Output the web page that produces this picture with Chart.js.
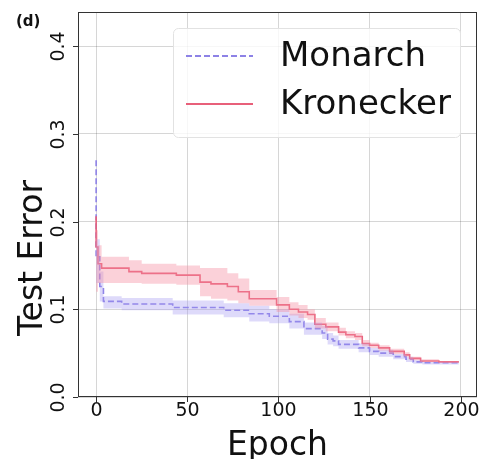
<!DOCTYPE html>
<html>
<head>
<meta charset="utf-8">
<script src="https://cdn.jsdelivr.net/npm/chart.js@4.4.0/dist/chart.umd.min.js"></script>
<style>
  html, body { margin: 0; padding: 0; background: #fff; }
  #wrap { width: 481px; height: 459px; }
</style>
</head>
<body>
<div id="wrap"><canvas id="chart" width="481" height="459"></canvas></div>
<script>
// ─────────────────────────────────────────────
//  DATA (best-so-far test error, stepped)
// ─────────────────────────────────────────────
const xTicks = [0, 50, 100, 150, 200];
const yTicks = [0.0, 0.1, 0.2, 0.3, 0.4];

const monarchEpochs = [0, 2, 4, 14, 42, 70, 84, 95, 106, 114, 124, 127, 130, 133, 144, 150, 155, 163, 170, 174, 179, 188, 199];
const monarchMean   = [0.270, 0.160, 0.126, 0.109, 0.106, 0.102, 0.099, 0.095, 0.092, 0.086, 0.078, 0.073, 0.066, 0.064, 0.060, 0.056, 0.052, 0.050, 0.046, 0.043, 0.040, 0.039, 0.039];
const monarchUpper  = [0.275, 0.180, 0.143, 0.115, 0.113, 0.110, 0.107, 0.104, 0.100, 0.095, 0.085, 0.081, 0.073, 0.070, 0.065, 0.061, 0.056, 0.054, 0.049, 0.046, 0.042, 0.040, 0.040];
const monarchLower  = [0.260, 0.130, 0.109, 0.101, 0.099, 0.094, 0.091, 0.086, 0.084, 0.078, 0.071, 0.066, 0.060, 0.058, 0.055, 0.051, 0.048, 0.046, 0.043, 0.040, 0.038, 0.037, 0.037];

const kronEpochs = [0, 1, 3, 18, 25, 44, 57, 63, 72, 78, 84, 99, 106, 111, 116, 120, 126, 133, 137, 142, 146, 150, 155, 161, 169, 172, 178, 188, 199];
const kronMean   = [0.206, 0.171, 0.152, 0.147, 0.143, 0.141, 0.139, 0.131, 0.129, 0.126, 0.120, 0.112, 0.105, 0.100, 0.097, 0.094, 0.083, 0.080, 0.074, 0.071, 0.069, 0.061, 0.059, 0.056, 0.052, 0.048, 0.044, 0.041, 0.040];
const kronUpper  = [0.210, 0.190, 0.173, 0.160, 0.156, 0.152, 0.150, 0.147, 0.147, 0.141, 0.135, 0.122, 0.114, 0.108, 0.105, 0.100, 0.090, 0.085, 0.079, 0.075, 0.073, 0.065, 0.062, 0.059, 0.055, 0.051, 0.046, 0.043, 0.041];
const kronLower  = [0.115, 0.120, 0.130, 0.130, 0.130, 0.129, 0.128, 0.115, 0.112, 0.110, 0.107, 0.104, 0.097, 0.093, 0.090, 0.088, 0.078, 0.075, 0.070, 0.067, 0.065, 0.058, 0.056, 0.053, 0.049, 0.046, 0.042, 0.040, 0.039];

const seriesNames = ['Monarch', 'Kronecker'];

const MON_LINE  = '#8d82e6';
const MON_BAND  = 'rgba(160,150,240,0.35)';
const KRON_LINE = '#e8607a';
const KRON_BAND = 'rgba(245,140,160,0.40)';

const pts = (xs, ys) => xs.map((x, i) => ({ x, y: ys[i] }));

// ─────────────────────────────────────────────
//  Custom drawing: frame, tick marks, labels, legend
// ─────────────────────────────────────────────
const FONT = '"DejaVu Sans", sans-serif';

const decor = {
  id: 'decor',
  afterDraw(chart) {
    const { ctx, chartArea: a, scales: { x, y } } = chart;
    ctx.save();

    // frame
    ctx.strokeStyle = '#333';
    ctx.lineWidth = 1;
    ctx.strokeRect(a.left + 0.5, a.top + 0.5, a.right - a.left - 1, a.bottom - a.top - 1);

    // tick marks + labels
    ctx.fillStyle = '#111';
    ctx.font = '19px ' + FONT;
    ctx.textAlign = 'center';
    ctx.textBaseline = 'top';
    xTicks.forEach(t => {
      const px = Math.round(x.getPixelForValue(t)) + 0.5;
      ctx.beginPath(); ctx.moveTo(px, a.bottom); ctx.lineTo(px, a.bottom + 5); ctx.stroke();
      ctx.fillText(String(t), px, a.bottom + 5);
    });
    yTicks.forEach(t => {
      const py = Math.round(y.getPixelForValue(t)) + 0.5;
      ctx.beginPath(); ctx.moveTo(a.left - 5, py); ctx.lineTo(a.left, py); ctx.stroke();
      ctx.save();
      ctx.translate(a.left - 9, py);
      ctx.rotate(-Math.PI / 2);
      ctx.textBaseline = 'bottom';
      ctx.fillText(t.toFixed(1), 0, 0);
      ctx.restore();
    });

    // axis titles
    ctx.font = '33px ' + FONT;
    ctx.textBaseline = 'alphabetic';
    ctx.fillText('Epoch', (a.left + a.right) / 2, 455);
    ctx.save();
    ctx.translate(42, 258);
    ctx.rotate(-Math.PI / 2);
    ctx.fillText('Test Error', 0, 0);
    ctx.restore();

    // panel tag
    ctx.font = 'bold 15px ' + FONT;
    ctx.textAlign = 'left';
    ctx.fillText('(d)', 16, 26);

    // legend
    const lx = 173, ly = 28, lw = 287, lh = 109;
    ctx.fillStyle = 'rgba(255,255,255,0.8)';
    ctx.strokeStyle = '#e2e2e2';
    ctx.beginPath();
    ctx.roundRect(lx + 0.5, ly + 0.5, lw, lh, 5);
    ctx.fill(); ctx.stroke();

    const rows = [
      { name: seriesNames[0], color: MON_LINE, dash: [6, 3], y: 56 },
      { name: seriesNames[1], color: KRON_LINE, dash: [], y: 104 }
    ];
    ctx.font = '34px ' + FONT;
    ctx.textBaseline = 'middle';
    rows.forEach(r => {
      ctx.strokeStyle = r.color;
      ctx.lineWidth = 1.8;
      ctx.setLineDash(r.dash);
      ctx.beginPath(); ctx.moveTo(186, r.y); ctx.lineTo(253, r.y); ctx.stroke();
      ctx.setLineDash([]);
      ctx.fillStyle = '#111';
      ctx.fillText(r.name, 280, r.y + 1);
    });

    ctx.restore();
  }
};

// ─────────────────────────────────────────────
//  CHART
// ─────────────────────────────────────────────
const band = (xs, ys, color, fill) => ({
  data: pts(xs, ys),
  borderWidth: 0,
  borderColor: 'transparent',
  backgroundColor: color,
  pointRadius: 0,
  stepped: 'after',
  fill
});

new Chart(document.getElementById('chart').getContext('2d'), {
  type: 'line',
  data: {
    datasets: [
      band(kronEpochs, kronLower, KRON_BAND, false),
      band(kronEpochs, kronUpper, KRON_BAND, '-1'),
      band(monarchEpochs, monarchLower, MON_BAND, false),
      band(monarchEpochs, monarchUpper, MON_BAND, '-1'),
      { label: seriesNames[1], data: pts(kronEpochs, kronMean), borderColor: KRON_LINE, borderWidth: 1.6,
        pointRadius: 0, stepped: 'after', fill: false },
      { label: seriesNames[0], data: pts(monarchEpochs, monarchMean), borderColor: MON_LINE, borderWidth: 1.6,
        borderDash: [6, 3], pointRadius: 0, stepped: 'after', fill: false }
    ]
  },
  options: {
    responsive: false,
    animation: false,
    layout: { padding: { left: 78, top: 12, right: 4, bottom: 62 } },
    plugins: { legend: { display: false }, tooltip: { enabled: false } },
    scales: {
      x: {
        type: 'linear', min: -9.95, max: 208.95,
        afterBuildTicks: s => { s.ticks = xTicks.map(v => ({ value: v })); },
        ticks: { display: false },
        grid: { color: 'rgba(0,0,0,0.16)', drawTicks: false },
        border: { display: false }
      },
      y: {
        type: 'linear', min: 0, max: 0.439,
        afterBuildTicks: s => { s.ticks = yTicks.map(v => ({ value: v })); },
        ticks: { display: false },
        grid: { color: 'rgba(0,0,0,0.16)', drawTicks: false },
        border: { display: false }
      }
    }
  },
  plugins: [decor]
});
</script>
</body>
</html>
